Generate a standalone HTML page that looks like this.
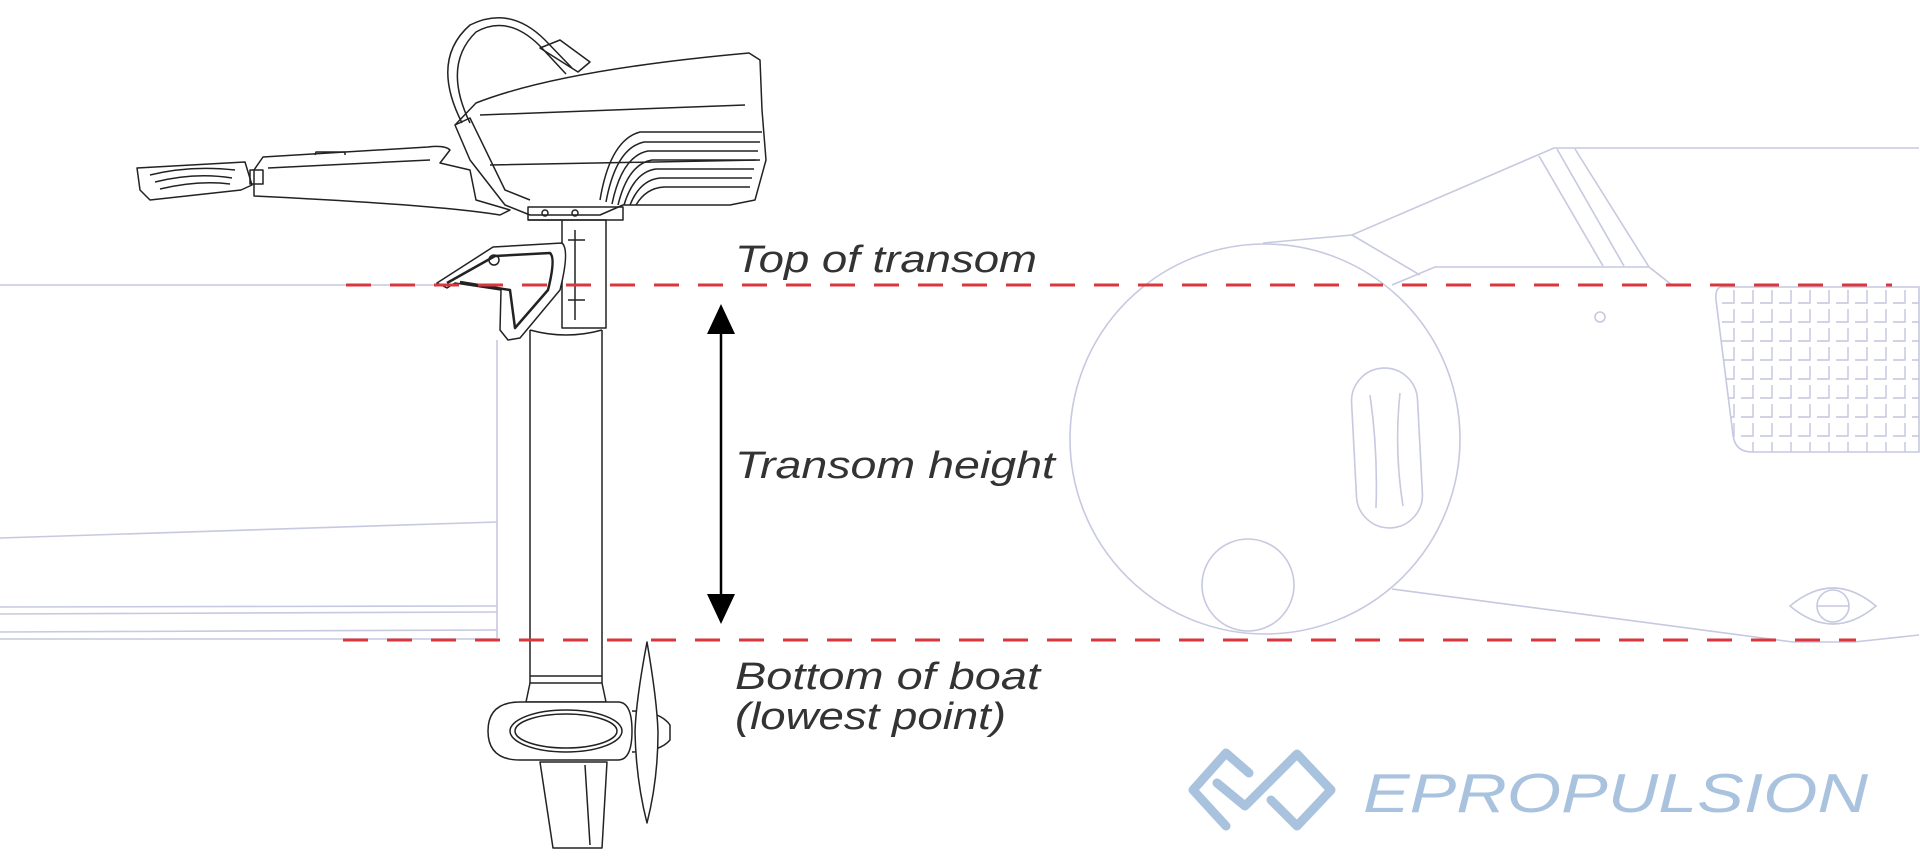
<!DOCTYPE html>
<html><head><meta charset="utf-8"><style>
html,body{margin:0;padding:0;background:#fff;}
svg{display:block;}
</style></head><body>
<svg width="1920" height="867" viewBox="0 0 1920 867" xmlns="http://www.w3.org/2000/svg">
<defs>
<pattern id="grid" x="1720" y="288" width="19" height="19" patternUnits="userSpaceOnUse">
<path d="M14,2 V15 H2" fill="none" stroke="#c3c6de" stroke-width="1.4"/>
</pattern>
<clipPath id="pc"><path d="M1722,287 H1919 V452 H1752 Q1735,452 1733,435 L1716,300 Q1715,287 1722,287 Z"/></clipPath>
</defs>
<!-- boat (light) -->
<g fill="none" stroke="#c6c9e0" stroke-width="1.6">
<line x1="0" y1="285" x2="440" y2="285"/>
<line x1="497" y1="340" x2="497" y2="638"/>
<line x1="0" y1="538" x2="497" y2="522"/>
<line x1="0" y1="607" x2="497" y2="606"/>
<line x1="0" y1="614" x2="497" y2="612"/>
<line x1="0" y1="632" x2="497" y2="630"/>
<line x1="0" y1="639" x2="497" y2="639"/>
<circle cx="1265" cy="439" r="195"/>
<circle cx="1248" cy="585" r="46"/>
<rect x="1354" y="368" width="66" height="160" rx="33" transform="rotate(-3 1387 448)"/>
<path d="M1370,395 Q1378,450 1376,508 M1400,393 Q1394,450 1403,506"/>
<path d="M1263,243 L1352,235 L1554,148 L1919,148"/>
<path d="M1352,235 L1420,275"/>
<path d="M1392,285 L1435,267 L1649,267 L1672,285"/>
<path d="M1539,156 L1603,266 M1557,149 L1624,266 M1575,149 L1649,267"/>
<path d="M1722,287 H1919 V452 H1752 Q1735,452 1733,435 L1716,300 Q1715,287 1722,287 Z"/>
<circle cx="1600" cy="317" r="5"/>
<path d="M1392,589 L1793,642 L1854,642 L1919,635"/>
<path d="M1790,606 Q1833,570 1876,606 Q1833,642 1790,606 Z"/>
<circle cx="1833" cy="606" r="16"/>
<line x1="1817" y1="606" x2="1849" y2="606"/>
</g>
<rect x="1715" y="287" width="205" height="166" fill="url(#grid)" clip-path="url(#pc)"/>
<!-- motor -->
<g fill="none" stroke="#222" stroke-width="1.5" stroke-linejoin="round">
<!-- cable -->
<path d="M462,123 Q430,60 470,25 Q510,5 545,40 L572,68"/>
<path d="M470,123 Q442,65 476,32 Q508,14 540,46 L566,74"/>
<path d="M540,48 L560,40 L590,62 L578,72 Z"/>
<!-- cowling -->
<path d="M476,103 Q560,70 749,53 L760,60 L762,110 L766,160 L755,200 L730,205 L623,205 L600,215 L530,215 L505,205 L470,160 L455,125 Z"/>
<path d="M480,115 L745,105 M490,165 L760,160"/>
<path d="M455,125 L470,118 L505,190 L530,200"/>
<path d="M600,200 Q610,140 640,132 L762,132 M606,202 Q616,148 644,142 L760,142 M612,204 Q622,156 648,151 L758,151 M618,205 Q628,164 652,160 L756,160 M624,205 Q634,172 656,169 L754,169 M630,205 Q640,180 660,178 L752,178 M636,205 Q646,188 664,187 L750,187"/>
<!-- tiller -->
<path d="M263,157 L428,147 Q445,145 450,150 L440,163 L470,170 L476,200 L510,210 L500,215 Q440,205 254,196 L254,170 Z"/>
<path d="M268,168 L430,160 M315,155 L316,152 L345,152 L345,155"/>
<path d="M250,170 L263,170 L263,184 L250,184 Z"/>
<path d="M137,168 L245,162 L252,185 L241,190 L150,200 L140,190 Z"/>
<path d="M150,175 Q190,165 235,170 M155,182 Q195,172 232,178 M160,189 Q198,180 230,184"/>
<!-- neck / upper bracket -->
<path d="M528,207 L623,207 L623,220 L528,220 Z"/>
<circle cx="545" cy="213" r="3"/><circle cx="575" cy="213" r="3"/>
<path d="M528,220 L606,220 L606,328 L562,328 L562,220"/>
<path d="M568,240 L585,240 M568,300 L585,300 M575,230 L575,320"/>
<path d="M530,330 Q566,340 602,330"/>
<!-- clamp -->
<path d="M437,283 L493,247 L562,243 Q570,250 560,290 L520,338 L508,340 L500,330 L501,290 L455,283 L447,288 Z" fill="#fff"/>
<path d="M447,283 L495,256 L550,253 Q556,258 548,290 L515,328 L510,290 L460,282" stroke-width="2.5"/>
<circle cx="494" cy="260" r="5"/>
<!-- shaft -->
<path d="M530,330 L530,683 M602,330 L602,683"/>
<path d="M530,676 L602,676"/>
<!-- pod -->
<path d="M530,683 L602,683 L606,702 L526,702 Z"/>
<path d="M540,702 L618,702 Q632,702 632,731 Q632,760 618,760 L520,760 Q488,760 488,731 Q488,702 520,702 Z" fill="#fff"/>
<ellipse cx="566" cy="731" rx="56" ry="21"/>
<ellipse cx="566" cy="731" rx="51" ry="17"/>
<path d="M632,711 Q660,711 670,725 L670,740 Q660,752 632,752"/>
<path d="M647,642 Q636,700 635,732 Q636,780 647,823 Q658,780 658,732 Q657,700 647,642 Z" fill="#fff"/>
<path d="M540,762 L607,762 L602,848 L553,848 Z"/>
<path d="M585,765 L590,845"/>
</g>
<!-- red dashed -->
<g stroke="#d9363e" stroke-width="3" stroke-dasharray="25 19">
<line x1="346" y1="285" x2="1892" y2="285"/>
<line x1="343" y1="640" x2="1856" y2="640"/>
</g>
<!-- arrow -->
<line x1="721" y1="330" x2="721" y2="600" stroke="#000" stroke-width="2.5"/>
<path d="M721,304 L707,334 L735,334 Z M721,624 L707,594 L735,594 Z" fill="#000"/>
<!-- labels -->
<g font-family="Liberation Sans, sans-serif" font-style="italic" font-size="38" fill="#333">
<text x="735" y="272" textLength="302" lengthAdjust="spacingAndGlyphs">Top of transom</text>
<text x="735" y="478" textLength="320" lengthAdjust="spacingAndGlyphs">Transom height</text>
<text x="735" y="689" textLength="305" lengthAdjust="spacingAndGlyphs">Bottom of boat</text>
<text x="735" y="729" textLength="271" lengthAdjust="spacingAndGlyphs">(lowest point)</text>
</g>
<!-- logo -->
<g fill="none" stroke="#a9c2de" stroke-width="9" stroke-linejoin="round" stroke-linecap="round">
<path d="M1249,773 L1226,753 L1193,790 L1226,826"/>
<path d="M1217,783 L1245,806 L1297,754 L1331,790 L1297,826 L1271,800"/>
</g>
<text x="1363" y="812" font-family="Liberation Sans, sans-serif" font-style="italic" font-size="55" fill="#a9c2de" textLength="505" lengthAdjust="spacingAndGlyphs">EPROPULSION</text>
</svg>
</body></html>
